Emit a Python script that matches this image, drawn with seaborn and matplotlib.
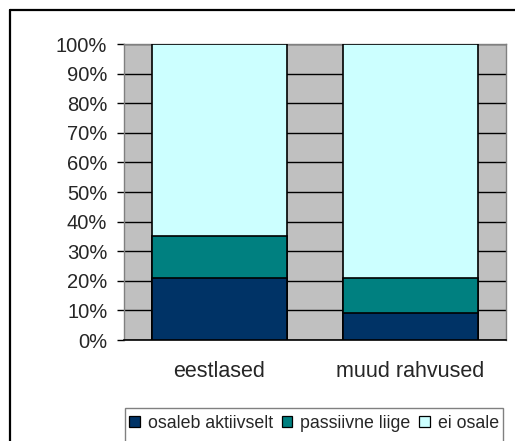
import numpy as np
import pandas as pd
import matplotlib
matplotlib.use("Agg")
import matplotlib.pyplot as plt
from matplotlib.patches import Patch, Rectangle
from matplotlib.lines import Line2D
import seaborn as sns

# values (percent)
groups = ["eestlased", "muud rahvused"]
osaleb_aktiivselt = [21, 9]
passiivne_liige = [14, 12]
ei_osale = [65, 79]
series_names = ["osaleb aktiivselt", "passiivne liige", "ei osale"]
colors = ["#003366", "#008080", "#CCFFFF"]
y_ticks = list(range(0, 101, 10))

sns.set_style("white")
plt.rcParams["font.family"] = ["Liberation Sans", "DejaVu Sans"]

W, H = 515, 441
fig = plt.figure(figsize=(W / 100, H / 100), dpi=100)
ax = fig.add_axes([124 / W, 1 - 340 / H, 382 / W, 296 / H])

# stacked bars drawn as overlapping cumulative totals
df = pd.DataFrame({
    "group": groups,
    "s1": osaleb_aktiivselt,
    "s2": np.add(osaleb_aktiivselt, passiivne_liige),
    "s3": np.add(np.add(osaleb_aktiivselt, passiivne_liige), ei_osale),
})
for col, c in zip(["s3", "s2", "s1"], colors[::-1]):
    sns.barplot(data=df, x="group", y=col, color=c, width=0.71,
                edgecolor="black", linewidth=1.2, saturation=1, ax=ax, zorder=3)

ax.set_facecolor("#C0C0C0")
ax.set_xlim(-0.5, 1.5)
ax.set_ylim(0, 100)
ax.set_yticks(y_ticks)
ax.set_yticklabels([f"{v}%" for v in y_ticks], fontsize=14.5)
ax.yaxis.grid(True, color="black", linewidth=1, zorder=1)
ax.set_axisbelow(True)
ax.set_xlabel("")
ax.set_ylabel("")

ax.set_xticks([0, 1])
ax.set_xticklabels(groups, fontsize=15.5)
ax.set_xticks([-0.5, 0.5, 1.5], minor=True)
ax.tick_params(axis="x", which="major", length=0, pad=15)
ax.tick_params(axis="x", which="minor", length=5, width=1, color="black", direction="out")
ax.tick_params(axis="y", length=5, width=1, color="black", direction="out", pad=7, left=True)

for side in ["top", "right", "left"]:
    ax.spines[side].set_color("#808080")
    ax.spines[side].set_linewidth(1)
ax.spines["bottom"].set_color("black")
ax.spines["bottom"].set_linewidth(1.2)

# outer chart border (top and left visible)
fig.add_artist(Line2D([10 / W, 10 / W], [0, 1 - 10 / H], color="black", lw=1.6,
                      transform=fig.transFigure))
fig.add_artist(Line2D([10 / W, 1], [1 - 10 / H, 1 - 10 / H], color="black", lw=1.6,
                      transform=fig.transFigure))

# legend with box running off the bottom
fig.add_artist(Rectangle((125 / W, -0.02), (503 - 125) / W, 1 - 408 / H + 0.02,
                         transform=fig.transFigure, facecolor="white",
                         edgecolor="#808080", lw=1))
handles = [Patch(facecolor=c, edgecolor="black", lw=0.9) for c in colors]
fig.legend(handles, series_names, loc="center left",
           bbox_to_anchor=(129 / W, 1 - 423 / H), ncol=3, frameon=False,
           fontsize=12.8, handlelength=0.6, handleheight=0.6,
           handletextpad=0.45, columnspacing=0.5, borderpad=0, borderaxespad=0)

fig.savefig("out.png", dpi=100)
